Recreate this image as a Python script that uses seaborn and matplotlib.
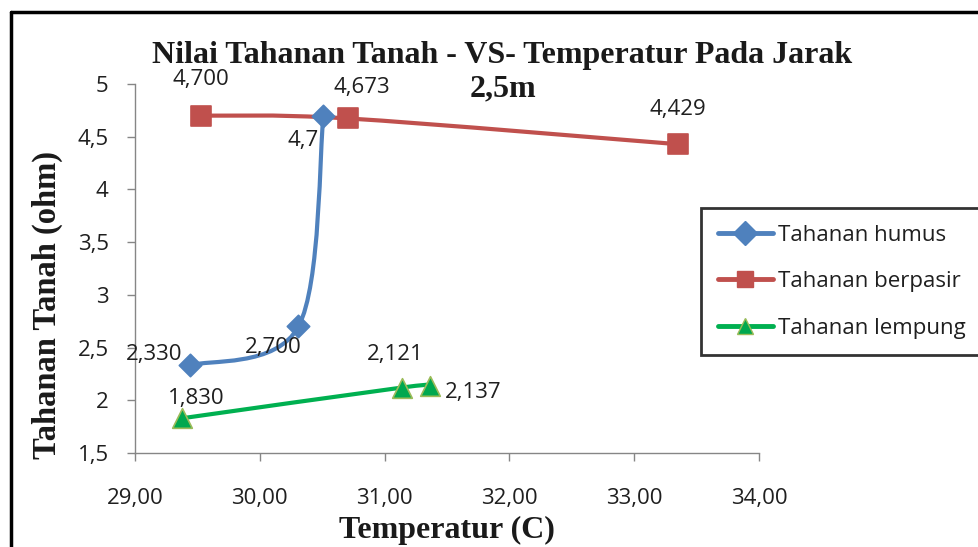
import numpy as np
import pandas as pd
import matplotlib
matplotlib.use("Agg")
import matplotlib.pyplot as plt
from matplotlib.path import Path
from matplotlib.patches import PathPatch
from matplotlib.lines import Line2D
from matplotlib.ticker import FixedLocator, FuncFormatter
import seaborn as sns

# ---- data ----
humus_temp = [29.44, 30.31, 30.51]
humus_res = [2.330, 2.700, 4.700]
humus_lbl = ["2,330", "2,700", "4,7"]

pasir_temp = [29.53, 30.71, 33.35]
pasir_res = [4.700, 4.673, 4.429]
pasir_lbl = ["4,700", "4,673", "4,429"]

lemp_temp = [29.38, 31.14, 31.36]
lemp_res = [1.830, 2.121, 2.137]
lemp_lbl = ["1,830", "2,121", "2,137"]

series_names = ["Tahanan humus", "Tahanan berpasir", "Tahanan lempung"]
x_ticks = [29, 30, 31, 32, 33, 34]
y_ticks = [1.5, 2, 2.5, 3, 3.5, 4, 4.5, 5]

title_line1 = "Nilai Tahanan Tanah - VS- Temperatur Pada Jarak"
title_line2 = "2,5m"
xlabel = "Temperatur (C)"
ylabel = "Tahanan Tanah (ohm)"

# ---- style ----
sns.set_theme(style="white")
plt.rcParams["font.family"] = ["Open Sans", "DejaVu Sans"]

colors = {"Tahanan humus": "#4F81BD", "Tahanan berpasir": "#C0504D", "Tahanan lempung": "#00B050"}
mface = {"Tahanan humus": "#4F81BD", "Tahanan berpasir": "#C0504D", "Tahanan lempung": "#00A84F"}
medge = {"Tahanan humus": "#4F81BD", "Tahanan berpasir": "#C0504D", "Tahanan lempung": "#9BBB59"}
markers = {"Tahanan humus": "D", "Tahanan berpasir": "s", "Tahanan lempung": "^"}
msize = {"Tahanan humus": 130, "Tahanan berpasir": 190, "Tahanan lempung": 200}

df = pd.concat([
    pd.DataFrame({"T": humus_temp, "R": humus_res, "S": series_names[0], "L": humus_lbl}),
    pd.DataFrame({"T": pasir_temp, "R": pasir_res, "S": series_names[1], "L": pasir_lbl}),
    pd.DataFrame({"T": lemp_temp, "R": lemp_res, "S": series_names[2], "L": lemp_lbl}),
], ignore_index=True)

W, H = 979, 547
fig = plt.figure(figsize=(W / 100, H / 100), dpi=100)
fig.patch.set_facecolor("white")
ax = fig.add_axes([135 / W, (H - 453) / H, (759 - 135) / W, (453 - 84) / H])

ax.set_xlim(29, 34)
ax.set_ylim(1.5, 5)


def smooth_path(xs, ys):
    pts = np.column_stack([xs, ys])
    n = len(pts)
    verts = [tuple(pts[0])]
    codes = [Path.MOVETO]
    for i in range(n - 1):
        p0 = pts[i - 1] if i > 0 else pts[i]
        p1 = pts[i]
        p2 = pts[i + 1]
        p3 = pts[i + 2] if i + 2 < n else pts[i + 1]
        c1 = p1 + (p2 - p0) / 6.0
        c2 = p2 - (p3 - p1) / 6.0
        verts += [tuple(c1), tuple(c2), tuple(p2)]
        codes += [Path.CURVE4] * 3
    return Path(verts, codes)


for name in series_names:
    sub = df[df["S"] == name]
    patch = PathPatch(smooth_path(sub["T"].values, sub["R"].values), facecolor="none",
                      edgecolor=colors[name], lw=3.0, capstyle="round", zorder=2)
    ax.add_patch(patch)
    sns.scatterplot(data=sub, x="T", y="R", ax=ax, marker=markers[name], s=msize[name],
                    color=mface[name], edgecolor=medge[name], linewidth=1.2, zorder=3, legend=False)

# data labels (offsets in pixels)
offsets = {
    "Tahanan humus": [((-8, 11), "right"), ((-25, -21), "center"), ((-5, -25), "right")],
    "Tahanan berpasir": [((0, 36), "center"), ((13, 31), "center"), ((0, 35), "center")],
    "Tahanan lempung": [((14, 20), "center"), ((-7, 33), "center"), ((15, -7), "left")],
}
for name in series_names:
    sub = df[df["S"] == name].reset_index(drop=True)
    for i, row in sub.iterrows():
        (dx, dy), ha = offsets[name][i]
        ax.annotate(row["L"], (row["T"], row["R"]), xytext=(dx, dy), textcoords="offset pixels",
                    ha=ha, va="center", fontsize=16, color="#1f1f1f", zorder=4)

# axes styling
for s in ["top", "right"]:
    ax.spines[s].set_visible(False)
for s in ["left", "bottom"]:
    ax.spines[s].set_color("#868686")
    ax.spines[s].set_linewidth(1.0)
ax.xaxis.set_major_locator(FixedLocator(x_ticks))
ax.yaxis.set_major_locator(FixedLocator(y_ticks))
ax.xaxis.set_major_formatter(FuncFormatter(lambda v, p: f"{v:.2f}".replace(".", ",")))
ax.yaxis.set_major_formatter(FuncFormatter(lambda v, p: (f"{v:g}").replace(".", ",")))
ax.tick_params(axis="both", direction="out", length=6, width=1, color="#868686",
               labelsize=16, labelcolor="#1f1f1f", bottom=True, left=True)
ax.tick_params(axis="x", pad=19)
ax.tick_params(axis="y", pad=13)
ax.set_xlabel("")
ax.set_ylabel("")
ax.set_facecolor("none")

serif = ["Liberation Serif", "DejaVu Serif"]
fig.text(502 / W, 1 - 55 / H, title_line1, ha="center", va="center", fontsize=23, fontweight="bold",
         family=serif, color="#1a1a1a")
fig.text(503 / W, 1 - 89 / H, title_line2, ha="center", va="center", fontsize=23, fontweight="bold",
         family=serif, color="#1a1a1a")
fig.text(447 / W, 1 - 530 / H, xlabel, ha="center", va="center", fontsize=23, fontweight="bold",
         family=serif, color="#1a1a1a")
fig.text(47 / W, 1 - 305 / H, ylabel, ha="center", va="center", rotation=90, fontsize=23.5,
         fontweight="bold", family=serif, color="#1a1a1a")

# legend
handles = [Line2D([0], [0], color=colors[n], lw=3.5, marker=markers[n], markersize=12,
                  markerfacecolor=mface[n], markeredgecolor=medge[n]) for n in series_names]
leg = fig.legend(handles, series_names, loc="upper left", bbox_to_anchor=(701 / W, 1 - 208 / H),
                 fontsize=16, frameon=True, fancybox=False, handlelength=2.5, handletextpad=0.2,
                 labelspacing=1.15, borderpad=0.75, borderaxespad=0)
leg.get_frame().set_edgecolor("black")
leg.get_frame().set_linewidth(2)
for t in leg.get_texts():
    t.set_color("#1f1f1f")

# figure border (top & left visible)
fig.add_artist(Line2D([11 / W, 1], [1 - 12 / H, 1 - 12 / H], color="black", lw=2.5, transform=fig.transFigure))
fig.add_artist(Line2D([11 / W, 11 / W], [0, 1 - 12 / H], color="black", lw=2.5, transform=fig.transFigure))

fig.savefig("out.png", dpi=100)
